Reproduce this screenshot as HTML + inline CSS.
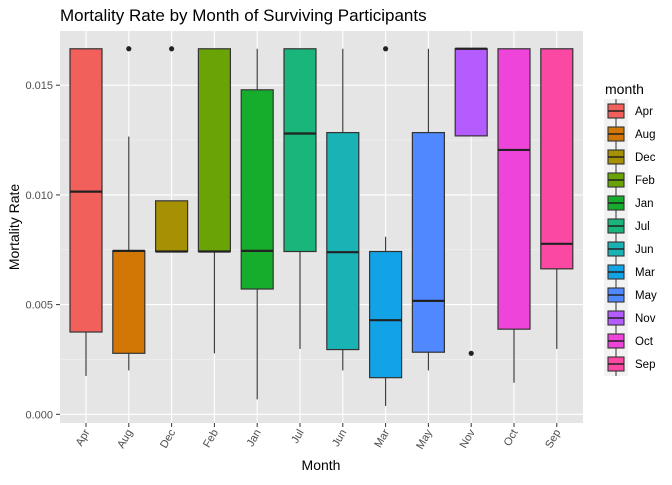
<!DOCTYPE html>
<html><head><meta charset="utf-8"><style>
body{margin:0;background:#fff}
svg{font-family:"Liberation Sans",sans-serif}
</style></head><body>
<svg id="c" width="672" height="480">
<text x="60" y="21" font-size="17" fill="#000">Mortality Rate by Month of Surviving Participants</text>
<rect x="60" y="31" width="523" height="392" fill="#e5e5e5"/>
<g id="grid"></g><g id="boxes"></g><g id="axes"></g>
<text x="321" y="470" font-size="14" text-anchor="middle">Month</text>
<text transform="translate(19,227) rotate(-90)" font-size="14" text-anchor="middle">Mortality Rate</text>
<text x="605" y="94" font-size="14">month</text>
<g id="legend"></g>
</svg>
<script>
const months=["Apr","Aug","Dec","Feb","Jan","Jul","Jun","Mar","May","Nov","Oct","Sep"];
const colors=["#F2605C","#D27706","#A69004","#6AA306","#17AD2C","#19B57B","#19B3B6","#12A2E6","#4F88FF","#B55CFF","#EE44DA","#FB48A2"];
const lowW=[0.00175,0.0020,0.00742,0.00278,0.00068,0.00298,0.0020,0.00038,0.0020,0.01269,0.00144,0.00298];
const q1=[0.00375,0.00278,0.00742,0.00742,0.00571,0.00742,0.00295,0.00167,0.00283,0.01269,0.00388,0.00663];
const med=[0.01015,0.00745,0.00742,0.00742,0.00745,0.0128,0.00739,0.00429,0.00517,0.01666,0.01205,0.00777];
const q3=[0.01666,0.00745,0.00973,0.01666,0.01479,0.01666,0.01284,0.00742,0.01284,0.01666,0.01666,0.01666];
const highW=[0.01666,0.01266,0.00973,0.01666,0.01666,0.01666,0.01666,0.00809,0.01666,0.01666,0.01666,0.01666];
const outliers=[[],[0.01666],[0.01666],[],[],[],[],[0.01666],[],[0.00278],[],[]];
const yTicks=[0,0.005,0.010,0.015];
const yLabels=["0.000","0.005","0.010","0.015"];
const NS="http://www.w3.org/2000/svg";
const y=v=>414.3-v/0.005*109.7;
const x=i=>86+i*42.8;
function mk(t,a,p){const e=document.createElementNS(NS,t);for(const k in a)e.setAttribute(k,a[k]);p.appendChild(e);return e;}
const G=document.getElementById('grid'),B=document.getElementById('boxes'),A=document.getElementById('axes'),L=document.getElementById('legend');
for(let v=0.0025;v<0.017;v+=0.005){const l=mk('line',{x1:60,x2:583,y1:y(v),y2:y(v),stroke:'#f2f2f2','stroke-width':0.6},G);

}
yTicks.forEach((v,i)=>{const l=mk('line',{x1:60,x2:583,y1:y(v),y2:y(v),stroke:'#fff','stroke-width':1.1},G);


const t=mk('line',{x1:56,x2:60,y1:y(v),y2:y(v),stroke:'#333'},A);


const tx=mk('text',{x:53,y:y(v)+4,'font-size':11,fill:'#4d4d4d','text-anchor':'end'},A);tx.textContent=yLabels[i];

});
months.forEach((m,i)=>{const cx=x(i);
const g=mk('line',{x1:cx,x2:cx,y1:31,y2:423,stroke:'#fff','stroke-width':1.1},G);


const grp=mk('g',{},B);


mk('line',{x1:cx,x2:cx,y1:y(highW[i]),y2:y(q3[i]),stroke:'#333','stroke-width':1.1},grp);
mk('line',{x1:cx,x2:cx,y1:y(q1[i]),y2:y(lowW[i]),stroke:'#333','stroke-width':1.1},grp);
mk('rect',{x:cx-16,y:y(q3[i]),width:32,height:Math.max(0.5,y(q1[i])-y(q3[i])),fill:colors[i],stroke:'#333','stroke-width':1.2},grp);
mk('line',{x1:cx-16,x2:cx+16,y1:y(med[i]),y2:y(med[i]),stroke:'#222','stroke-width':2.2},grp);
outliers[i].forEach(o=>{const c=mk('circle',{cx:cx,cy:y(o),r:2.6,fill:'#222'},B);

});
const t=mk('line',{x1:cx,x2:cx,y1:423,y2:427,stroke:'#333'},A);


const tx=mk('text',{transform:`translate(${cx+4},${432}) rotate(-60)`,'font-size':11,fill:'#4d4d4d','text-anchor':'end'},A);tx.textContent=m;


const ly=101+i*23;
const lg=mk('g',{},L);


mk('rect',{x:604,y:ly-2,width:24,height:24,fill:'#f2f2f2'},lg);
mk('line',{x1:616,x2:616,y1:ly-2,y2:ly+22,stroke:'#333'},lg);
mk('rect',{x:608,y:ly+3,width:16,height:14,fill:colors[i],stroke:'#333','stroke-width':1.1},lg);
mk('line',{x1:608,x2:624,y1:ly+10,y2:ly+10,stroke:'#222','stroke-width':1.5},lg);
const lt=mk('text',{x:635,y:ly+14,'font-size':11.5,fill:'#000'},lg);lt.textContent=m;
});
</script>
</body></html>
